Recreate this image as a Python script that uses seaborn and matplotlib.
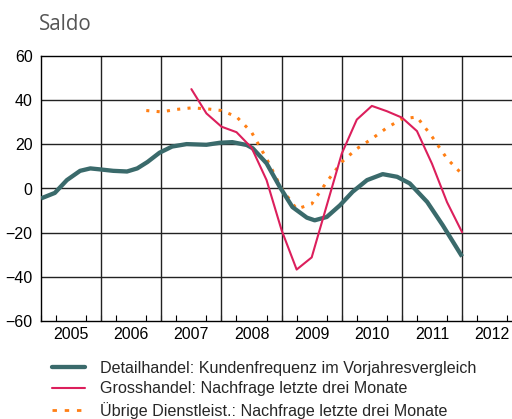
import numpy as np
import pandas as pd
import matplotlib
matplotlib.use("Agg")
import matplotlib.pyplot as plt
import seaborn as sns

# ---------------------------------------------------------
# Data
# ---------------------------------------------------------
# Detailhandel is a smooth curve, so it is read at finer steps
detail_t = [2005.00, 2005.23, 2005.43, 2005.65, 2005.82, 2006.00, 2006.20, 2006.43,
            2006.60, 2006.77, 2006.97, 2007.18, 2007.42, 2007.75, 2007.97, 2008.18,
            2008.42, 2008.52, 2008.75, 2008.97, 2009.18, 2009.42, 2009.55, 2009.75,
            2009.97, 2010.18, 2010.42, 2010.68, 2010.92, 2011.13, 2011.42, 2011.68,
            2012.00]
detail_v = [-4.5, -2.0, 3.8, 8.0, 9.1, 8.6, 8.0, 7.7,
            9.1, 12.0, 16.2, 19.0, 20.1, 19.8, 20.7, 21.0,
            19.7, 18.2, 11.4, 0.7, -8.4, -13.2, -14.4, -12.9,
            -7.6, -1.5, 3.8, 6.5, 5.3, 2.3, -6.1, -16.7,
            -30.8]

gross_t = [2007.50, 2007.75, 2008.00, 2008.25, 2008.50, 2008.75, 2009.00, 2009.25,
           2009.50, 2009.75, 2010.00, 2010.25, 2010.50, 2010.75, 2011.00, 2011.25,
           2011.50, 2011.75, 2012.00]
gross_v = [45.0, 34.0, 28.0, 25.5, 18.5, 3.8, -18.9, -36.7,
           -31.2, -7.7, 15.8, 31.2, 37.4, 35.0, 32.1, 26.0,
           11.2, -6.2, -19.8]

dienst_t = [2006.75, 2007.00, 2007.25, 2007.50, 2007.75, 2008.00, 2008.25, 2008.50,
            2008.75, 2009.00, 2009.25, 2009.50, 2009.75, 2010.00, 2010.25, 2010.50,
            2010.75, 2011.00, 2011.25, 2011.50, 2011.75, 2012.00]
dienst_v = [35.3, 34.7, 35.8, 36.5, 36.1, 35.3, 32.5, 25.5,
            13.5, 0.0, -9.3, -7.0, 3.0, 12.0, 18.0, 22.5,
            27.5, 31.5, 32.4, 23.5, 13.5, 6.5]

year_labels = ["2005", "2006", "2007", "2008", "2009", "2010", "2011", "2012"]
y_ticks = [60, 40, 20, 0, -20, -40, -60]

labels = ["Detailhandel: Kundenfrequenz im Vorjahresvergleich",
          "Grosshandel: Nachfrage letzte drei Monate",
          "Übrige Dienstleist.: Nachfrage letzte drei Monate"]

# ---------------------------------------------------------
# Plot
# ---------------------------------------------------------
sns.set_style("white")
plt.rcParams['font.family'] = ['Liberation Sans', 'DejaVu Sans']

fig = plt.figure(figsize=(5.12, 4.19), dpi=100)
ax = fig.add_axes([41 / 512, 1 - 321 / 419, 1 - 41 / 512, 265 / 419])

green = "#3a6a6b"
pink = "#dc1f5c"
orange = "#ff7f14"

sns.lineplot(x=detail_t, y=detail_v, ax=ax, color=green, linewidth=3.1,
             solid_capstyle="butt", solid_joinstyle="round", zorder=3)
sns.lineplot(x=gross_t, y=gross_v, ax=ax, color=pink, linewidth=1.5, zorder=4)
sns.lineplot(x=dienst_t, y=dienst_v, ax=ax, color=orange, linewidth=2.2, zorder=2)
ax.lines[2].set_linestyle((0, (1, 2.4)))
ax.lines[2].set_dash_capstyle("butt")

ax.set_xlim(2005, 2012.83)
ax.set_ylim(-60, 60)

# year labels centred in each year, quarter ticks along the bottom
years = np.arange(2005, 2013)
ax.set_xticks(years + 0.5)
ax.set_xticklabels(year_labels)
ax.set_xticks(np.arange(2005, 2013, 0.25), minor=True)
ax.tick_params(axis="x", which="major", length=0, pad=4, labelsize=11.5, colors="black")
ax.tick_params(axis="x", which="minor", direction="in", length=4, width=0.8,
               color="black", bottom=True)
ax.set_yticks(y_ticks)
ax.tick_params(axis="y", length=0, pad=6, labelsize=11.5, colors="black")

for yv in y_ticks[1:-1]:
    ax.axhline(yv, color="#222222", linewidth=1.0, zorder=1)
for xv in years[1:]:
    ax.axvline(xv, color="#222222", linewidth=1.0, zorder=1)

for side in ["left", "top", "bottom"]:
    ax.spines[side].set_color("black")
    ax.spines[side].set_linewidth(1.0)
ax.spines["right"].set_visible(False)
ax.set_xlabel("")
ax.set_ylabel("")

fig.text(39 / 512, 1 - 25 / 419, "Saldo", family="Open Sans", fontsize=14.8,
         color="#555555", va="center", ha="left")

handles = [plt.Line2D([], [], color=green, linewidth=3.1),
           plt.Line2D([], [], color=pink, linewidth=1.5),
           plt.Line2D([], [], color=orange, linewidth=2.0, linestyle=(0, (1.6, 2.8)))]
fig.legend(handles, labels, loc="upper left", bbox_to_anchor=(52 / 512, 1 - 361 / 419),
           frameon=False, fontsize=11.6, handlelength=2.05, handletextpad=0.95,
           labelspacing=0.33, borderaxespad=0, borderpad=0)

fig.savefig("out.png", dpi=100)
plt.close(fig)
